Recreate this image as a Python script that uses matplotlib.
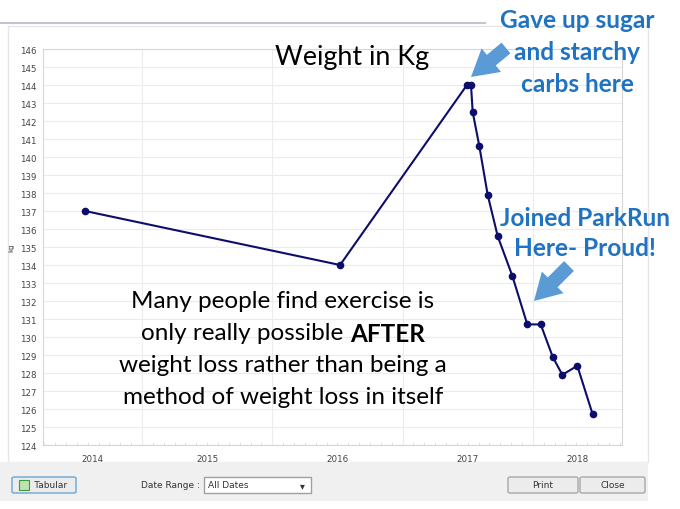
import numpy as np
import matplotlib
matplotlib.use("Agg")
import matplotlib.pyplot as plt
from matplotlib import patches, transforms

# weight readings, x as decimal year
years = [2014.563, 2016.520, 2017.494, 2017.525, 2017.538, 2017.589, 2017.653,
         2017.730, 2017.842, 2017.957, 2018.060, 2018.152, 2018.226, 2018.341,
         2018.459]
weights = [137.0, 134.0, 144.0, 144.0, 142.5, 140.6, 137.9,
           135.6, 133.4, 130.7, 130.7, 128.9, 127.9, 128.4,
           125.7]
year_labels = [2014, 2015, 2016, 2017, 2018]
y_ticks = list(range(124, 147))

W, H = 680, 510
xlo, xhi = 2014.240, 2018.684


def px(x, y):
    return x / W, 1 - y / H


fig = plt.figure(figsize=(6.8, 5.1), dpi=100)
fig.patch.set_facecolor("white")

# window decorations
fig.add_artist(plt.Line2D([0, 485 / W], [1 - 24 / H] * 2, color="#c4c6cf", lw=1.5))
fig.add_artist(patches.Rectangle(px(8, 463), 640 / W, 436 / H, transform=fig.transFigure,
                                 facecolor="white", edgecolor="#e6e6e6", lw=1, zorder=-2))
fig.add_artist(patches.Rectangle(px(0, 502), 648 / W, 39 / H, transform=fig.transFigure,
                                 facecolor="#f0f0f0", edgecolor="none", zorder=-2))


def button(x0, x1, label, edge="#a8a8a8", face="#ececec"):
    fig.add_artist(patches.FancyBboxPatch(px(x0, 494), (x1 - x0) / W, 16 / H,
                                          boxstyle="round,pad=0,rounding_size=0.003",
                                          transform=fig.transFigure, facecolor=face,
                                          edgecolor=edge, lw=1))
    fig.text(*px((x0 + x1) / 2, 486), label, ha="center", va="center",
             fontsize=6.5, color="#333333")


button(12, 76, "     Tabular", edge="#6aa6d6")
fig.add_artist(patches.Rectangle(px(19, 491), 10 / W, 10 / H, transform=fig.transFigure,
                                 facecolor="#bfe3b0", edgecolor="#3d9a3d", lw=0.8))
fig.text(*px(200, 486), "Date Range :", ha="right", va="center", fontsize=6.5, color="#333333")
fig.add_artist(patches.Rectangle(px(204, 494), 107 / W, 16 / H, transform=fig.transFigure,
                                 facecolor="white", edgecolor="#a0a0a0", lw=1))
fig.text(*px(208, 486), "All Dates", ha="left", va="center", fontsize=6.5, color="#333333")
fig.text(*px(302, 486), "\u25be", ha="center", va="center", fontsize=7, color="#333333")
button(508, 578, "Print")
button(580, 645, "Close")

# chart
ax = fig.add_axes([43 / W, 1 - 446 / H, (622 - 43) / W, (446 - 50) / H])
ax.plot(years, weights, color="#0d0d6b", lw=1.5, marker="o", ms=4.5, zorder=3)
ax.set_xlim(xlo, xhi)
ax.set_ylim(124, 146)
ax.set_yticks(y_ticks)
ax.tick_params(axis="y", length=0, labelsize=6.2, labelcolor="#444444", pad=5)
ax.set_xticks([2015, 2016, 2017, 2018])
ax.set_xticklabels([])
ax.tick_params(axis="x", which="major", length=0)
ax.set_xticks(np.arange(2014.25, 2018.7, 1 / 12), minor=True)
ax.tick_params(axis="x", which="minor", length=2, color="#dddddd", direction="in")
ax.grid(True, which="major", color="#ececec", lw=0.8)
for s in ax.spines.values():
    s.set_color("#d6d6d6")
ax.set_ylabel("kg", fontsize=5, color="#444444", labelpad=4)

tr = transforms.blended_transform_factory(ax.transData, ax.transAxes)
for y in year_labels:
    c = (max(y, xlo) + min(y + 1, xhi)) / 2
    ax.text(c, -0.035, str(y), transform=tr, ha="center", va="center",
            fontsize=6.3, color="#444444")

# annotations
font = ["Lato", "DejaVu Sans"]
blue = "#1f73c0"
fig.text(*px(352, 58), "Weight in Kg", ha="center", va="center", fontsize=19.4,
         family=font, color="black")
for yy, line in zip([21, 53, 85], ["Gave up sugar", "and starchy", "carbs here"]):
    fig.text(*px(577, yy), line, ha="center", va="center", fontsize=17.6,
             fontweight="bold", family=font, color=blue)
for yy, line in zip([219, 248], ["Joined ParkRun", "Here- Proud!"]):
    fig.text(*px(585, yy), line, ha="center", va="center", fontsize=17.6,
             fontweight="bold", family=font, color=blue)


def block_arrow(x0, y0, x1, y1):
    fig.add_artist(patches.FancyArrowPatch((x0, H - y0), (x1, H - y1),
                                           transform=None, shrinkA=0, shrinkB=0,
                                           arrowstyle="simple,head_width=2.2,head_length=1.9,tail_width=1.0",
                                           mutation_scale=10, color="#5b9bd5", lw=0))


block_arrow(506, 49, 471, 78)
block_arrow(569, 267, 534, 302)

body = ["Many people find exercise is", None,
        "weight loss rather than being a", "method of weight loss in itself"]
body_y = [302, 334, 366, 398]
cx = 283
fs = 17.5
for line, yy in zip(body, body_y):
    if line:
        fig.text(*px(cx, yy), line, ha="center", va="center", fontsize=fs,
                 family=font, color="black")

t1 = fig.text(0, px(0, body_y[1])[1], "only really possible ", ha="left", va="center",
              fontsize=fs, family=font, color="black")
t2 = fig.text(0, px(0, body_y[1])[1], "AFTER", ha="left", va="center",
              fontsize=fs, family=font, fontweight="bold", color="black")
fig.canvas.draw()
r = fig.canvas.get_renderer()
w1 = t1.get_window_extent(r).width
w2 = t2.get_window_extent(r).width
start = cx - (w1 + w2) / 2
t1.set_x(start / W)
t2.set_x((start + w1) / W)

fig.savefig("out.png", dpi=100)
